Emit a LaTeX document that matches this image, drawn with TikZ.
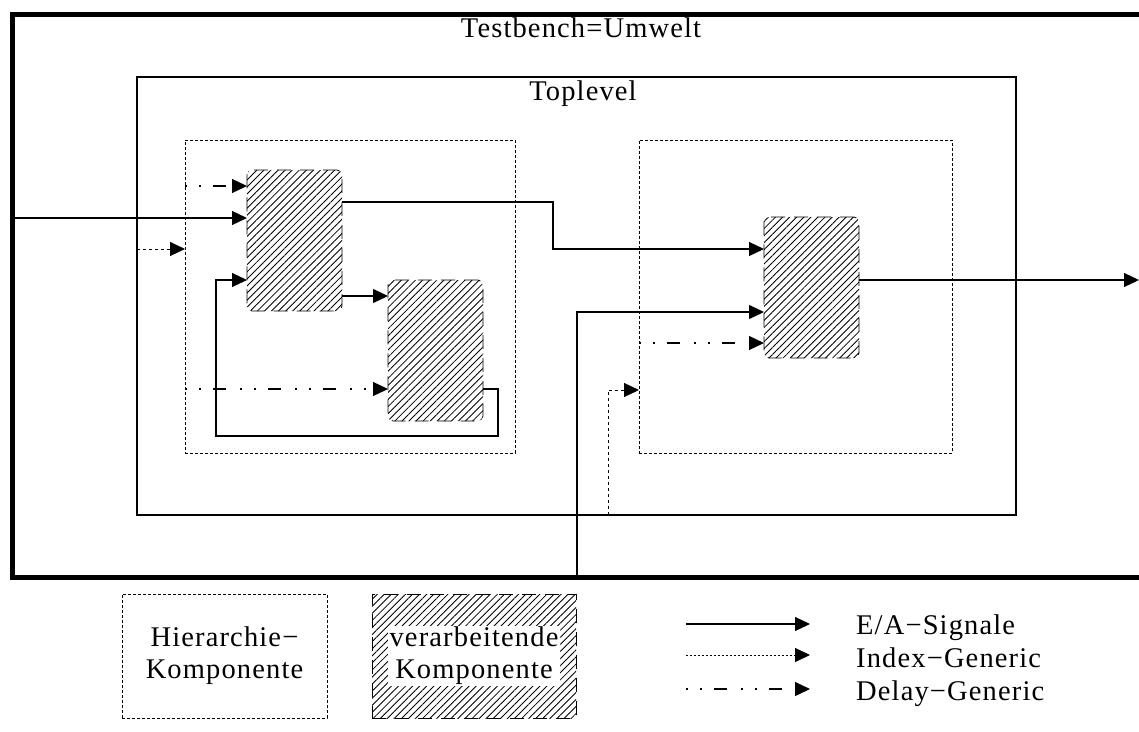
\documentclass[tikz,border=0pt]{standalone}
\usepackage{fontspec}
\setmainfont{Liberation Serif}[LetterSpace=4]
\usetikzlibrary{arrows.meta,patterns.meta,positioning}

\begin{document}
\begin{tikzpicture}[x=1pt,y=-1pt,
  frame/.style={draw,line width=5pt,outer sep=0pt,minimum width=1138pt,minimum height=563pt},
  level/.style={draw,line width=1.2pt,outer sep=0pt},
  hier/.style={draw,line width=1pt,dash pattern=on 3pt off 2pt,outer sep=0pt},
  proc/.style={draw,line width=0.8pt,dash pattern=on 14pt off 9pt,rounded corners=5pt,outer sep=0pt,
    pattern={Lines[angle=45,distance=5pt,line width=0.85pt]},minimum width=95pt,minimum height=141pt},
  lbl/.style={font=\fontsize{28.5}{32}\selectfont,inner sep=0pt},
  sig/.style={-{Triangle[length=15pt,width=14pt]},line width=1.2pt},
  idx/.style={sig,line width=1pt,dash pattern=on 3pt off 3pt},
  dly/.style={sig,dash pattern=on 2pt off 12pt on 2pt off 12pt on 13pt off 14pt}
]
\useasboundingbox (0,0) rectangle (1139,731);

% environment and top level
\node[frame] (bench) at (581,295.5) {};
\node[lbl,anchor=base] (benchname) at (581,37) {Testbench=Umwelt};
\node[level,minimum width=879pt,minimum height=438pt] (top) at (576.5,296) {};
\node[lbl,anchor=base] (topname) at (583,100) {Toplevel};

% hierarchy components
\node[hier,minimum width=330pt,minimum height=313pt] (hierL) at (350,296.5) {};
\node[hier,minimum width=313pt,minimum height=313pt] (hierR) at (795.5,296.5) {};

% processing components
\node[proc] (procA) at (294.5,240.5) {};
\node[proc] (procB) at (435.5,350.5) {};
\node[proc] (procC) at (811.5,287.5) {};
\coordinate (outpin) at (1139,280);

% signals
\draw[dly] (hierL.west |- 0,186) -- (procA.west |- 0,186);
\draw[sig] (bench.west |- 0,218) -- (procA.west |- 0,218);
\draw[idx] (top.west |- 0,249) -- (hierL.west |- 0,249);
\draw[sig] (procB.east |- 0,389) -| (498,436) -| (216,280) -- (procA.west |- 0,280);
\draw[sig] (procA.east |- 0,296) -- (procB.west |- 0,296);
\draw[dly] (hierL.west |- 0,389) -- (procB.west |- 0,389);
\draw[sig] (procA.east |- 0,202) -| (553,249) -- (procC.west |- 0,249);
\draw[sig] (bench.south -| 577,0) |- (procC.west |- 0,312);
\draw[dly] (hierR.west |- 0,343) -- (procC.west |- 0,343);
\draw[idx] (top.south -| 608,0) |- (hierR.west |- 0,390);
\draw[sig] (procC.east |- 0,280) -- (outpin);

% legend
\node[hier,lbl,align=center,minimum width=205pt,minimum height=124pt] (legHier) at (224.5,656) {Hierarchie−\\Komponente};
\node[proc,sharp corners,minimum width=204pt,minimum height=124pt] (legProc) at (474,656) {};
\node[lbl,fill=white,align=center,inner sep=1.5pt] (legProcText) at (legProc) {verarbeitende\\Komponente};

\coordinate (sigA) at (686,624);
\coordinate (sigB) at (810,624);
\coordinate (idxA) at (686,655);
\coordinate (idxB) at (810,655);
\coordinate (dlyA) at (686,689);
\coordinate (dlyB) at (810,689);
\draw[sig] (sigA) -- (sigB);
\draw[idx,dash pattern=on 2pt off 2pt] (idxA) -- (idxB);
\draw[dly] (dlyA) -- (dlyB);
\node[lbl,anchor=base west] (sigName) at (856,634) {E/A−Signale};
\node[lbl,anchor=base west] (idxName) at (856,667) {Index−Generic};
\node[lbl,anchor=base west] (dlyName) at (856,700) {Delay−Generic};
\end{tikzpicture}
\end{document}
